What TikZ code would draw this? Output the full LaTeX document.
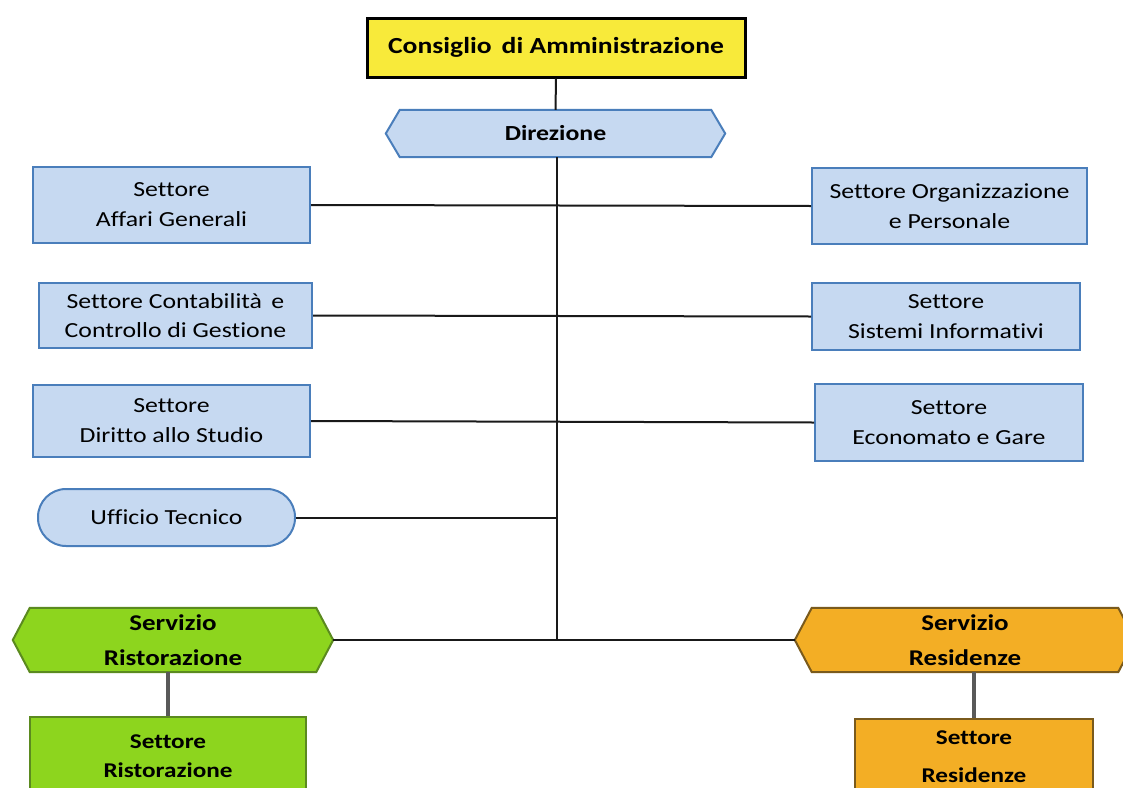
\documentclass[tikz,border=0pt]{standalone}
\usepackage{fontspec}
\setmainfont{Carlito}[FakeStretch=1.2, Ligatures=NoCommon]
\usetikzlibrary{backgrounds}
\definecolor{bluefill}{HTML}{C6D9F1}
\definecolor{blueline}{HTML}{4A7EBB}
\definecolor{yellowfill}{HTML}{F8EA3A}
\definecolor{greenfill}{HTML}{8DD51E}
\definecolor{greenline}{HTML}{5B8A1F}
\definecolor{orangefill}{HTML}{F3AE25}
\definecolor{orangeline}{HTML}{7A5A1C}
\begin{document}
\begin{tikzpicture}[x=1pt,y=-1pt,
  every node/.style={inner sep=0pt, align=center, font=\fontsize{21.5}{30}\selectfont},
  bluebox/.style={draw=blueline, line width=2pt, fill=bluefill, rectangle},
  hexnode/.style={rectangle},
  conn/.style={black!90, line width=2pt},
  subconn/.style={black!65, line width=4pt}]
\useasboundingbox (0,0) rectangle (1123,787);

% top
\node[draw=black, line width=3pt, fill=yellowfill, minimum width=378pt, minimum height=59pt,
  font=\bfseries\fontsize{23}{28}\selectfont] (cda) at (556,47.5) {Consiglio\, di Amministrazione};
\node[hexnode, minimum width=339pt, minimum height=47pt, font=\bfseries\fontsize{21.5}{28}\selectfont] (dir) at (555.5,133.5) {Direzione};

% left column
\node[bluebox, minimum width=277pt, minimum height=76pt] (ag) at (171.5,205) {Settore\\Affari Generali};
\node[bluebox, minimum width=273pt, minimum height=65pt, font=\fontsize{21.5}{29}\selectfont] (cg) at (175.5,315.5) {Settore Contabilità\, e\\Controllo di Gestione};
\node[bluebox, minimum width=277pt, minimum height=72pt] (ds) at (171.5,421) {Settore\\Diritto allo Studio};
\node[bluebox, rounded corners=28pt, minimum width=257pt, minimum height=57pt] (ut) at (166.5,517.5) {Ufficio Tecnico};

% right column
\node[bluebox, minimum width=275pt, minimum height=76pt] (op) at (949.5,206) {Settore Organizzazione\\e Personale};
\node[bluebox, minimum width=268pt, minimum height=67pt] (si) at (946,316.5) {Settore\\Sistemi Informativi};
\node[bluebox, minimum width=268pt, minimum height=77pt] (eg) at (949,422.5) {Settore\\Economato e Gare};

% services
\node[hexnode, minimum width=320pt, minimum height=64pt, font=\bfseries\fontsize{22.5}{35}\selectfont] (sr) at (173,640) {Servizio\\Ristorazione};
\node[hexnode, minimum width=340pt, minimum height=64pt, font=\bfseries\fontsize{22.5}{35}\selectfont] (sres) at (965,640) {Servizio\\Residenze};
\node[draw=greenline, line width=2pt, fill=greenfill, minimum width=276pt, minimum height=78pt,
  font=\bfseries\fontsize{21}{29}\selectfont] (str) at (168,756) {Settore\\Ristorazione};
\node[draw=orangeline, line width=2pt, fill=orangefill, minimum width=238pt, minimum height=76pt,
  font=\bfseries\fontsize{21}{38}\selectfont] (stres) at (974,757) {Settore\\Residenze};

\begin{scope}[on background layer]
\draw[draw=blueline, line width=2pt, fill=bluefill]
  ([xshift=14pt]dir.north west) -- ([xshift=-14pt]dir.north east) -- (dir.east)
  -- ([xshift=-14pt]dir.south east) -- ([xshift=14pt]dir.south west) -- (dir.west) -- cycle;
\draw[draw=greenline, line width=2pt, fill=greenfill]
  ([xshift=17pt]sr.north west) -- ([xshift=-17pt]sr.north east) -- (sr.east)
  -- ([xshift=-17pt]sr.south east) -- ([xshift=17pt]sr.south west) -- (sr.west) -- cycle;
\draw[draw=orangeline, line width=2pt, fill=orangefill]
  ([xshift=17pt]sres.north west) -- ([xshift=-17pt]sres.north east) -- (sres.east)
  -- ([xshift=-17pt]sres.south east) -- ([xshift=17pt]sres.south west) -- (sres.west) -- cycle;
\end{scope}

% connectors
\coordinate (tb) at (557,639);
\draw[conn] (cda.south) -- (dir.north);
\draw[conn] (dir.south -| tb) -- (tb);
\draw[conn] (ag.east) -- (op.west);
\draw[conn] (cg.east) -- (si.west);
\draw[conn] (ds.east) -- (eg.west);
\draw[conn] (ut.east) -- (ut.east -| tb);
\draw[conn] (sr.east) -- (sres.west);
\draw[subconn] (sr.south -| str.north) -- (str.north);
\draw[subconn] (sres.south -| stres.north) -- (stres.north);
\end{tikzpicture}
\end{document}
